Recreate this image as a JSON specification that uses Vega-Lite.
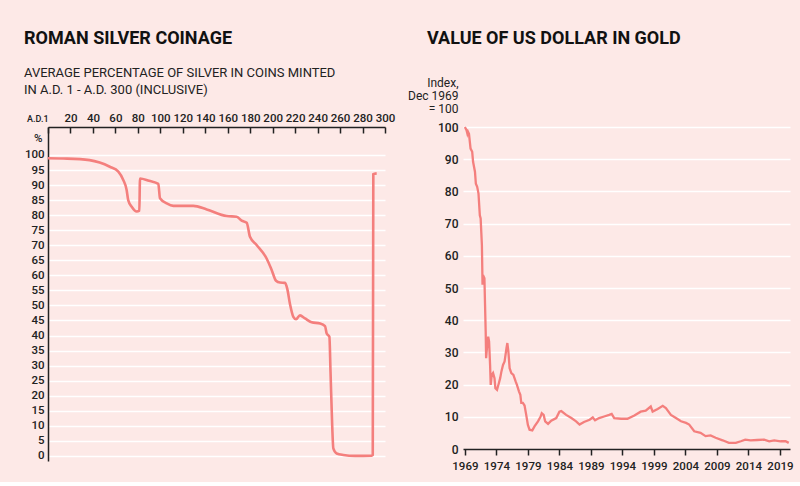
{
  "$schema": "https://vega.github.io/schema/vega-lite/v6.json",
  "background": "#fde9e7",
  "padding": {"left": 24, "top": 30, "right": 13, "bottom": 10},
  "spacing": 12,
  "config": {
    "view": {"stroke": null},
    "font": "Roboto",
    "axis": {"labelFont": "Roboto", "labelFontSize": 11.5, "labelFontWeight": 500, "labelColor": "#222", "titleFont": "Roboto", "titleColor": "#222"}
  },
  "hconcat": [
    {
      "width": 337,
      "height": 334,
      "title": {
        "text": "ROMAN SILVER COINAGE",
        "subtitle": ["AVERAGE PERCENTAGE OF SILVER IN COINS MINTED", "IN A.D. 1 - A.D. 300 (INCLUSIVE)"],
        "anchor": "start",
        "frame": "group",
        "dx": -24,
        "font": "Roboto",
        "fontSize": 18,
        "fontWeight": "bold",
        "color": "#111",
        "subtitleFont": "Roboto",
        "subtitleFontSize": 13,
        "subtitleFontWeight": 400,
        "subtitleColor": "#222",
        "subtitlePadding": 19,
        "subtitleLineHeight": 17,
        "offset": 15
      },
      "data": {
        "values": [
          {"year": 0, "pct": 98.9}, {"year": 17, "pct": 98.8}, {"year": 37, "pct": 98.3},
          {"year": 46, "pct": 97.5}, {"year": 55, "pct": 96.1}, {"year": 62.6, "pct": 94.5},
          {"year": 67, "pct": 91.7}, {"year": 70, "pct": 88.4}, {"year": 71.4, "pct": 85},
          {"year": 74.5, "pct": 82.8}, {"year": 79, "pct": 81.2}, {"year": 81.3, "pct": 81.5},
          {"year": 81.9, "pct": 92.2}, {"year": 90, "pct": 91.4}, {"year": 98.2, "pct": 90.4},
          {"year": 99.7, "pct": 85.6}, {"year": 105.7, "pct": 83.9}, {"year": 111.6, "pct": 83.1},
          {"year": 129.4, "pct": 83.1}, {"year": 141.3, "pct": 81.9}, {"year": 159.1, "pct": 79.7},
          {"year": 168, "pct": 79.5}, {"year": 172.4, "pct": 78.2}, {"year": 176.9, "pct": 77.5},
          {"year": 179.8, "pct": 72.8}, {"year": 185.7, "pct": 70.1}, {"year": 194.6, "pct": 65.6},
          {"year": 199.1, "pct": 61.8}, {"year": 203, "pct": 58.2}, {"year": 206.5, "pct": 57.6},
          {"year": 211, "pct": 57.5}, {"year": 213, "pct": 55.5}, {"year": 215.4, "pct": 50.5},
          {"year": 218.4, "pct": 46.2}, {"year": 220.8, "pct": 45.4}, {"year": 224.3, "pct": 46.7},
          {"year": 228.8, "pct": 45.7}, {"year": 234.7, "pct": 44.4}, {"year": 242.2, "pct": 44.0},
          {"year": 246.6, "pct": 43.1}, {"year": 248.1, "pct": 40.7}, {"year": 250.5, "pct": 39.6},
          {"year": 251.5, "pct": 28}, {"year": 253, "pct": 10}, {"year": 254, "pct": 2.5},
          {"year": 257, "pct": 0.8}, {"year": 262.9, "pct": 0.3}, {"year": 273.3, "pct": 0},
          {"year": 288.2, "pct": 0.1}, {"year": 289.1, "pct": 0.3}, {"year": 289.6, "pct": 93.6},
          {"year": 292.6, "pct": 93.9}
        ]
      },
      "mark": {"type": "line", "color": "#f47f7d", "strokeWidth": 2.6, "interpolate": "monotone"},
      "encoding": {
        "x": {
          "field": "year",
          "type": "quantitative",
          "scale": {"domain": [0, 300], "nice": false},
          "axis": {
            "orient": "top",
            "values": [0, 20, 40, 60, 80, 100, 120, 140, 160, 180, 200, 220, 240, 260, 280, 300],
            "labelExpr": "datum.value == 0 ? 'A.D.1' : datum.label",
            "labelAlign": {"condition": {"test": "datum.value == 0", "value": "right"}, "value": "center"},
            "labelFontSize": {"condition": {"test": "datum.value == 0", "value": 9}, "value": 11.5},
            "tickSize": -6,
            "labelPadding": 10,
            "grid": false,
            "title": null,
            "domainColor": "#222",
            "tickColor": "#222",
            "domainWidth": 1.5,
            "tickWidth": 1.5
          }
        },
        "y": {
          "field": "pct",
          "type": "quantitative",
          "scale": {"domain": [-1.7, 109.3], "nice": false, "zero": false},
          "axis": {
            "values": [0, 5, 10, 15, 20, 25, 30, 35, 40, 45, 50, 55, 60, 65, 70, 75, 80, 85, 90, 95, 100],
            "ticks": false,
            "labelPadding": 4,
            "gridColor": "#ffffff",
            "gridWidth": 1.3,
            "domainColor": "#222",
            "domainWidth": 1.5,
            "title": "%",
            "titleAngle": 0,
            "titleAlign": "right",
            "titleBaseline": "middle",
            "titleX": -6,
            "titleY": 11,
            "titleFontSize": 11.5,
            "titleFontWeight": 500
          }
        }
      }
    },
    {
      "width": 327,
      "height": 322,
      "title": {
        "text": "VALUE OF US DOLLAR IN GOLD",
        "anchor": "start",
        "frame": "group",
        "dx": -36,
        "font": "Roboto",
        "fontSize": 18,
        "fontWeight": "bold",
        "color": "#111",
        "offset": 28
      },
      "data": {
        "values": [
          {"t": 1969.0, "v": 100}, {"t": 1969.26, "v": 99}, {"t": 1969.4, "v": 97.9}, {"t": 1969.5, "v": 98.5},
          {"t": 1969.65, "v": 97.9}, {"t": 1969.9, "v": 93.3}, {"t": 1970.16, "v": 92.3}, {"t": 1970.3, "v": 89.2},
          {"t": 1970.6, "v": 86.1}, {"t": 1970.74, "v": 82.4}, {"t": 1970.95, "v": 81.4}, {"t": 1971.16, "v": 79.3},
          {"t": 1971.37, "v": 72.6}, {"t": 1971.5, "v": 71.6}, {"t": 1971.7, "v": 63.3}, {"t": 1971.8, "v": 51},
          {"t": 1971.88, "v": 54}, {"t": 1972.1, "v": 53}, {"t": 1972.2, "v": 44.7}, {"t": 1972.3, "v": 36.5},
          {"t": 1972.37, "v": 28.2}, {"t": 1972.5, "v": 31.3}, {"t": 1972.7, "v": 34.9}, {"t": 1972.84, "v": 33.4},
          {"t": 1973.0, "v": 26.1}, {"t": 1973.1, "v": 19.9}, {"t": 1973.26, "v": 23}, {"t": 1973.47, "v": 23.6},
          {"t": 1973.7, "v": 22}, {"t": 1973.84, "v": 18.9}, {"t": 1974.1, "v": 18.4}, {"t": 1974.4, "v": 20.5},
          {"t": 1974.6, "v": 22}, {"t": 1974.8, "v": 24.1}, {"t": 1975.05, "v": 26.1}, {"t": 1975.3, "v": 27.2},
          {"t": 1975.6, "v": 31.3}, {"t": 1975.74, "v": 32.9}, {"t": 1975.9, "v": 30.3}, {"t": 1976.1, "v": 25.1},
          {"t": 1976.37, "v": 23.6}, {"t": 1976.7, "v": 23}, {"t": 1977.05, "v": 21}, {"t": 1977.26, "v": 19.9},
          {"t": 1977.58, "v": 17.9}, {"t": 1977.8, "v": 16.8}, {"t": 1977.95, "v": 14.3}, {"t": 1978.2, "v": 14.3},
          {"t": 1978.47, "v": 13.5}, {"t": 1978.7, "v": 11}, {"t": 1979.0, "v": 7.5}, {"t": 1979.26, "v": 6},
          {"t": 1979.7, "v": 5.8}, {"t": 1980.05, "v": 7}, {"t": 1980.6, "v": 8.6}, {"t": 1981.0, "v": 10},
          {"t": 1981.2, "v": 11.1}, {"t": 1981.5, "v": 10.6}, {"t": 1981.74, "v": 8.6}, {"t": 1982.2, "v": 7.8},
          {"t": 1982.7, "v": 8.8}, {"t": 1983.5, "v": 9.6}, {"t": 1984.0, "v": 11.6}, {"t": 1984.3, "v": 11.8},
          {"t": 1985.07, "v": 10.6}, {"t": 1985.9, "v": 9.6}, {"t": 1986.65, "v": 8.6}, {"t": 1987.2, "v": 7.6},
          {"t": 1987.9, "v": 8.4}, {"t": 1988.8, "v": 9.1}, {"t": 1989.3, "v": 9.8}, {"t": 1989.66, "v": 8.9},
          {"t": 1990.3, "v": 9.6}, {"t": 1991.1, "v": 10.1}, {"t": 1991.9, "v": 10.6}, {"t": 1992.3, "v": 10.9},
          {"t": 1992.7, "v": 9.6}, {"t": 1993.8, "v": 9.4}, {"t": 1994.8, "v": 9.4}, {"t": 1995.9, "v": 10.4},
          {"t": 1996.9, "v": 11.6}, {"t": 1997.7, "v": 11.9}, {"t": 1998.5, "v": 13.2}, {"t": 1998.8, "v": 11.6},
          {"t": 1999.6, "v": 12.4}, {"t": 2000.4, "v": 13.4}, {"t": 2000.9, "v": 12.7}, {"t": 2001.7, "v": 10.6},
          {"t": 2002.5, "v": 9.6}, {"t": 2003.3, "v": 8.6}, {"t": 2004.1, "v": 8.1}, {"t": 2004.6, "v": 7.6},
          {"t": 2005.4, "v": 5.5}, {"t": 2006.4, "v": 5.0}, {"t": 2007.2, "v": 4.0}, {"t": 2008.0, "v": 4.2},
          {"t": 2008.8, "v": 3.5}, {"t": 2009.9, "v": 2.7}, {"t": 2010.9, "v": 1.9}, {"t": 2012.0, "v": 1.9},
          {"t": 2012.8, "v": 2.4}, {"t": 2013.5, "v": 2.9}, {"t": 2014.35, "v": 2.7}, {"t": 2015.4, "v": 2.8},
          {"t": 2016.5, "v": 2.9}, {"t": 2017.3, "v": 2.4}, {"t": 2018.1, "v": 2.7}, {"t": 2019.1, "v": 2.4},
          {"t": 2019.9, "v": 2.4}, {"t": 2020.4, "v": 1.9}
        ]
      },
      "mark": {"type": "line", "color": "#f47f7d", "strokeWidth": 2.3},
      "encoding": {
        "x": {
          "field": "t",
          "type": "quantitative",
          "scale": {"domain": [1968.7, 2020.6], "nice": false, "zero": false},
          "axis": {
            "values": [1969, 1974, 1979, 1984, 1989, 1994, 1999, 2004, 2009, 2014, 2019],
            "format": "d",
            "tickSize": 6,
            "labelPadding": 5,
            "labelFlush": false,
            "grid": false,
            "title": null,
            "domainColor": "#222",
            "tickColor": "#222",
            "domainWidth": 1.5,
            "tickWidth": 1.5
          }
        },
        "y": {
          "field": "v",
          "type": "quantitative",
          "scale": {"domain": [0, 100], "nice": false},
          "axis": {
            "values": [0, 10, 20, 30, 40, 50, 60, 70, 80, 90, 100],
            "ticks": false,
            "domain": false,
            "labelPadding": 5,
            "labelFontSize": 12,
            "gridColor": {"condition": {"test": "datum.value == 0", "value": "transparent"}, "value": "#ffffff"},
            "gridWidth": 1.3,
            "title": ["Index,", "Dec 1969", "= 100"],
            "titleAngle": 0,
            "titleAlign": "right",
            "titleBaseline": "top",
            "titleX": -5,
            "titleY": -50,
            "titleLineHeight": 13,
            "titleFontSize": 12,
            "titleFontWeight": 400
          }
        }
      }
    }
  ]
}
